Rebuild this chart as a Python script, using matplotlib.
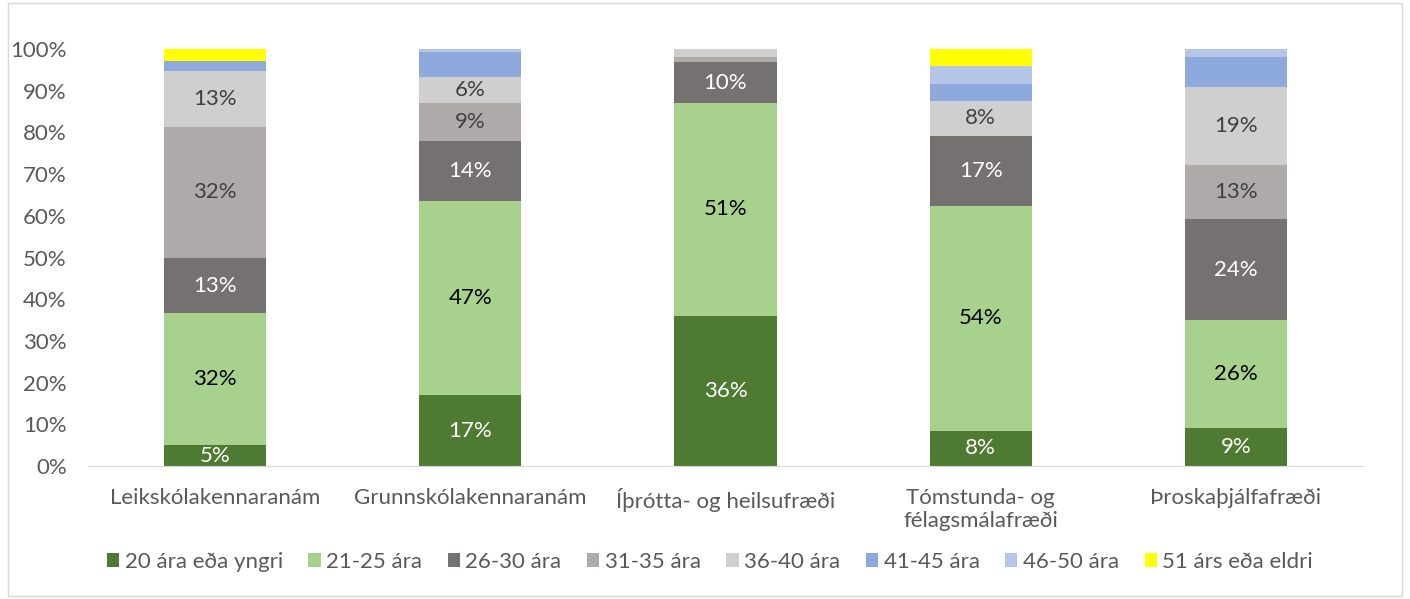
import matplotlib
matplotlib.use("Agg")
import matplotlib.pyplot as plt
from matplotlib.patches import Rectangle
import numpy as np

plt.rcParams['font.family'] = ['Lato', 'DejaVu Sans']

categories = ["Leikskólakennaranám", "Grunnskólakennaranám", "Íþrótta- og heilsufræði",
              "Tómstunda- og\nfélagsmálafræði", "Þroskaþjálfafræði"]
series_names = ["20 ára eða yngri", "21-25 ára", "26-30 ára", "31-35 ára",
                "36-40 ára", "41-45 ára", "46-50 ára", "51 árs eða eldri"]

s20 = [5.0, 17.0, 36.0, 8.4, 9.1]
s21_25 = [31.6, 46.6, 51.1, 54.0, 25.9]
s26_30 = [13.2, 14.4, 9.7, 16.8, 24.2]
s31_35 = [31.6, 9.1, 1.4, 0.0, 13.0]
s36_40 = [13.3, 6.1, 1.8, 8.3, 18.6]
s41_45 = [2.5, 6.0, 0.0, 4.0, 7.3]
s46_50 = [0.0, 0.8, 0.0, 4.4, 1.8]
s51 = [2.8, 0.0, 0.0, 4.2, 0.0]

series = [s20, s21_25, s26_30, s31_35, s36_40, s41_45, s46_50, s51]
colors = ["#4E7A32", "#A9D18E", "#767171", "#AEAAAA", "#D0CECE", "#8EA9DB", "#B4C6E7", "#FFFF00"]
label_colors = ["white", "black", "white", "#404040", "#404040", None, None, None]
show_labels = [[True]*5, [True]*5, [True]*5,
               [True, True, False, False, True],
               [True, True, False, True, True],
               [False]*5, [False]*5, [False]*5]

FS = 16
fig = plt.figure(figsize=(14.10, 5.99), dpi=100)
ax = fig.add_axes([87.5/1410, 1 - 466/599, (1363.5-87.5)/1410, (466-49)/599])

x = np.arange(len(categories))
bottom = np.zeros(len(categories))
for i, (vals, c) in enumerate(zip(series, colors)):
    vals = np.array(vals)
    ax.bar(x, vals, 0.4, bottom=bottom, color=c, label=series_names[i], zorder=2)
    for j in range(len(categories)):
        if show_labels[i][j]:
            ax.text(x[j], bottom[j] + vals[j]/2, f"{round(vals[j]):.0f}%",
                    ha='center', va='center', fontsize=FS, color=label_colors[i])
    bottom += vals

ax.set_xlim(-0.5, len(categories) - 0.5)
ax.set_ylim(0, 100)
ax.set_yticks(np.arange(0, 101, 10))
ax.set_yticklabels([f"{v}%" for v in range(0, 101, 10)], fontsize=FS, color="#595959")
ax.set_xticks(x)
ax.set_xticklabels(categories, fontsize=FS, color="#595959", linespacing=1.2)
ax.tick_params(axis='both', length=0)
ax.tick_params(axis='x', pad=16)
ax.tick_params(axis='y', pad=15)
for sp in ['top', 'right', 'left']:
    ax.spines[sp].set_visible(False)
ax.spines['bottom'].set_color("#D9D9D9")

leg = fig.legend(loc='center', bbox_to_anchor=(710/1410, 1 - 562/599), ncol=8, frameon=False,
                 fontsize=FS, handlelength=0.55, handleheight=0.55, handletextpad=0.25,
                 columnspacing=1.15, borderpad=0, borderaxespad=0)
for t in leg.get_texts():
    t.set_color("#595959")

fig.patches.append(Rectangle((8/1410, 0.005), 1 - 16/1410, 0.99, transform=fig.transFigure,
                             fill=False, edgecolor="#D9D9D9", linewidth=1))

fig.savefig("out.png", dpi=100)
